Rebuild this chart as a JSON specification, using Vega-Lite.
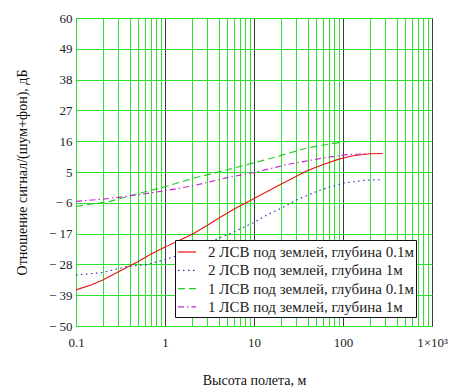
{
  "$schema": "https://vega.github.io/schema/vega-lite/v6.json",
  "width": 356,
  "height": 308,
  "autosize": {"type": "none"},
  "padding": {"left": 76, "top": 18, "right": 32, "bottom": 62},
  "background": "white",
  "config": {
    "view": {"stroke": "#222222", "strokeWidth": 1},
    "font": "Liberation Serif",
    "axis": {"labelFont": "Liberation Serif", "titleFont": "Liberation Serif"},
    "legend": {"labelFont": "Liberation Serif"}
  },
  "data": {
    "values": [
      {"s": "2 ЛСВ под землей, глубина 0.1м", "h": 0.1, "v": -37.1},
      {"s": "2 ЛСВ под землей, глубина 0.1м", "h": 0.15, "v": -35.3},
      {"s": "2 ЛСВ под землей, глубина 0.1м", "h": 0.2, "v": -33.6},
      {"s": "2 ЛСВ под землей, глубина 0.1м", "h": 0.3, "v": -30.6},
      {"s": "2 ЛСВ под землей, глубина 0.1м", "h": 0.5, "v": -27},
      {"s": "2 ЛСВ под землей, глубина 0.1м", "h": 0.7, "v": -24.3},
      {"s": "2 ЛСВ под землей, глубина 0.1м", "h": 1, "v": -21.8},
      {"s": "2 ЛСВ под землей, глубина 0.1м", "h": 1.5, "v": -19.2},
      {"s": "2 ЛСВ под землей, глубина 0.1м", "h": 2, "v": -17.3},
      {"s": "2 ЛСВ под землей, глубина 0.1м", "h": 3, "v": -14},
      {"s": "2 ЛСВ под землей, глубина 0.1м", "h": 4, "v": -11.5},
      {"s": "2 ЛСВ под землей, глубина 0.1м", "h": 6, "v": -8.2},
      {"s": "2 ЛСВ под землей, глубина 0.1м", "h": 10, "v": -4.5},
      {"s": "2 ЛСВ под землей, глубина 0.1м", "h": 15, "v": -1.5},
      {"s": "2 ЛСВ под землей, глубина 0.1м", "h": 20, "v": 0.6},
      {"s": "2 ЛСВ под землей, глубина 0.1м", "h": 30, "v": 3.5},
      {"s": "2 ЛСВ под землей, глубина 0.1м", "h": 40, "v": 5.5},
      {"s": "2 ЛСВ под землей, глубина 0.1м", "h": 60, "v": 7.7},
      {"s": "2 ЛСВ под землей, глубина 0.1м", "h": 90, "v": 9.6},
      {"s": "2 ЛСВ под землей, глубина 0.1м", "h": 130, "v": 10.8},
      {"s": "2 ЛСВ под землей, глубина 0.1м", "h": 200, "v": 11.5},
      {"s": "2 ЛСВ под землей, глубина 0.1м", "h": 280, "v": 11.6},
      {"s": "2 ЛСВ под землей, глубина 1м", "h": 0.1, "v": -31.8},
      {"s": "2 ЛСВ под землей, глубина 1м", "h": 0.2, "v": -30.9},
      {"s": "2 ЛСВ под землей, глубина 1м", "h": 0.37, "v": -28.8},
      {"s": "2 ЛСВ под землей, глубина 1м", "h": 0.6, "v": -28.2},
      {"s": "2 ЛСВ под землей, глубина 1м", "h": 1, "v": -26.3},
      {"s": "2 ЛСВ под землей, глубина 1м", "h": 1.5, "v": -24.5},
      {"s": "2 ЛСВ под землей, глубина 1м", "h": 2, "v": -22.8},
      {"s": "2 ЛСВ под землей, глубина 1м", "h": 3, "v": -20.3},
      {"s": "2 ЛСВ под землей, глубина 1м", "h": 4.5, "v": -18},
      {"s": "2 ЛСВ под землей, глубина 1м", "h": 6, "v": -16.3},
      {"s": "2 ЛСВ под землей, глубина 1м", "h": 10, "v": -13},
      {"s": "2 ЛСВ под землей, глубина 1м", "h": 14, "v": -10.3},
      {"s": "2 ЛСВ под землей, глубина 1м", "h": 20, "v": -8},
      {"s": "2 ЛСВ под землей, глубина 1м", "h": 30, "v": -5},
      {"s": "2 ЛСВ под землей, глубина 1м", "h": 50, "v": -2},
      {"s": "2 ЛСВ под землей, глубина 1м", "h": 70, "v": -0.4},
      {"s": "2 ЛСВ под землей, глубина 1м", "h": 100, "v": 1},
      {"s": "2 ЛСВ под землей, глубина 1м", "h": 170, "v": 2},
      {"s": "2 ЛСВ под землей, глубина 1м", "h": 280, "v": 2.3},
      {"s": "1 ЛСВ под землей, глубина 0.1м", "h": 0.1, "v": -7.3},
      {"s": "1 ЛСВ под землей, глубина 0.1м", "h": 0.24, "v": -5.5},
      {"s": "1 ЛСВ под землей, глубина 0.1м", "h": 0.5, "v": -2.7},
      {"s": "1 ЛСВ под землей, глубина 0.1м", "h": 1, "v": -0.3},
      {"s": "1 ЛСВ под землей, глубина 0.1м", "h": 2, "v": 2.6},
      {"s": "1 ЛСВ под землей, глубина 0.1м", "h": 5, "v": 5.8},
      {"s": "1 ЛСВ под землей, глубина 0.1м", "h": 10, "v": 8.3},
      {"s": "1 ЛСВ под землей, глубина 0.1м", "h": 16, "v": 10},
      {"s": "1 ЛСВ под землей, глубина 0.1м", "h": 25, "v": 11.8},
      {"s": "1 ЛСВ под землей, глубина 0.1м", "h": 40, "v": 13.6},
      {"s": "1 ЛСВ под землей, глубина 0.1м", "h": 70, "v": 15},
      {"s": "1 ЛСВ под землей, глубина 0.1м", "h": 110, "v": 15.9},
      {"s": "1 ЛСВ под землей, глубина 0.1м", "h": 125, "v": 16},
      {"s": "1 ЛСВ под землей, глубина 1м", "h": 0.1, "v": -5.5},
      {"s": "1 ЛСВ под землей, глубина 1м", "h": 0.2, "v": -4.7},
      {"s": "1 ЛСВ под землей, глубина 1м", "h": 0.35, "v": -3.8},
      {"s": "1 ЛСВ под землей, глубина 1м", "h": 0.5, "v": -3.1},
      {"s": "1 ЛСВ под землей, глубина 1м", "h": 1, "v": -1.7},
      {"s": "1 ЛСВ под землей, глубина 1м", "h": 2, "v": 0},
      {"s": "1 ЛСВ под землей, глубина 1м", "h": 3, "v": 1.3},
      {"s": "1 ЛСВ под землей, глубина 1м", "h": 5, "v": 3},
      {"s": "1 ЛСВ под землей, глубина 1м", "h": 10, "v": 4.8},
      {"s": "1 ЛСВ под землей, глубина 1м", "h": 23, "v": 7.6},
      {"s": "1 ЛСВ под землей, глубина 1м", "h": 40, "v": 9},
      {"s": "1 ЛСВ под землей, глубина 1м", "h": 60, "v": 10},
      {"s": "1 ЛСВ под землей, глубина 1м", "h": 110, "v": 11.2},
      {"s": "1 ЛСВ под землей, глубина 1м", "h": 200, "v": 11.6}
    ]
  },
  "mark": {"type": "line", "strokeWidth": 1.1},
  "encoding": {
    "x": {
      "field": "h",
      "type": "quantitative",
      "scale": {"type": "log", "domain": [0.1, 1000], "nice": false},
      "axis": {
        "title": "Высота полета, м",
        "titleFontSize": 14,
        "titleFontWeight": "normal",
        "titleColor": "#111",
        "titleBaseline": "alphabetic",
        "titleY": 58,
        "values": [0.1, 0.2, 0.3, 0.4, 0.5, 0.6, 0.7, 0.8, 0.9, 1, 2, 3, 4, 5, 6, 7, 8, 9, 10, 20, 30, 40, 50, 60, 70, 80, 90, 100, 200, 300, 400, 500, 600, 700, 800, 900, 1000],
        "labelExpr": "datum.value == 1000 ? '1×10³' : datum.value == 100 ? '100' : datum.value == 10 ? '10' : datum.value == 1 ? '1' : datum.value == 0.1 ? '0.1' : ''",
        "labelFontSize": 13,
        "labelColor": "#222",
        "labelPadding": 10,
        "labelOverlap": false,
        "labelFlush": false,
        "ticks": false,
        "domain": false,
        "grid": true,
        "gridColor": {"condition": {"test": "indexof([1, 10, 100, 1000], datum.value) >= 0", "value": "#3a3a3a"}, "value": "#2ee02e"},
        "gridOpacity": 1,
        "gridWidth": 1
      }
    },
    "y": {
      "field": "v",
      "type": "quantitative",
      "scale": {"domain": [-50, 60], "nice": false, "zero": false},
      "axis": {
        "title": "Отношение сигнал/(шум+фон), дБ",
        "titleFontSize": 14,
        "titleFontWeight": "normal",
        "titleColor": "#111",
        "titleX": -47,
        "titleY": 154,
        "values": [-50, -39, -28, -17, -6, 5, 16, 27, 38, 49, 60],
        "labelExpr": "datum.value < 0 ? '− ' + abs(datum.value) : '' + datum.value",
        "labelFontSize": 13,
        "labelColor": "#222",
        "labelPadding": 4,
        "ticks": false,
        "domain": false,
        "grid": true,
        "gridColor": "#2ee02e",
        "gridOpacity": 1
      }
    },
    "color": {
      "field": "s",
      "type": "nominal",
      "scale": {
        "domain": ["2 ЛСВ под землей, глубина 0.1м", "2 ЛСВ под землей, глубина 1м", "1 ЛСВ под землей, глубина 0.1м", "1 ЛСВ под землей, глубина 1м"],
        "range": ["#ee1111", "#2a2ab0", "#22cc22", "#cc22cc"]
      },
      "legend": {
        "title": null,
        "orient": "none",
        "legendX": 99,
        "legendY": 222,
        "fillColor": "white",
        "strokeColor": "#111",
        "padding": 2,
        "labelFontSize": 15,
        "labelColor": "#222",
        "labelLimit": 400,
        "labelOffset": 11,
        "rowPadding": 0.3,
        "symbolType": "stroke",
        "symbolSize": 324,
        "symbolStrokeWidth": 1.2
      }
    },
    "strokeDash": {
      "field": "s",
      "type": "nominal",
      "scale": {
        "domain": ["2 ЛСВ под землей, глубина 0.1м", "2 ЛСВ под землей, глубина 1м", "1 ЛСВ под землей, глубина 0.1м", "1 ЛСВ под землей, глубина 1м"],
        "range": [[100, 0], [1.5, 3.5], [7, 4], [6, 3, 1.5, 3]]
      },
      "legend": {
        "title": null,
        "orient": "none",
        "legendX": 99,
        "legendY": 222
      }
    }
  }
}
